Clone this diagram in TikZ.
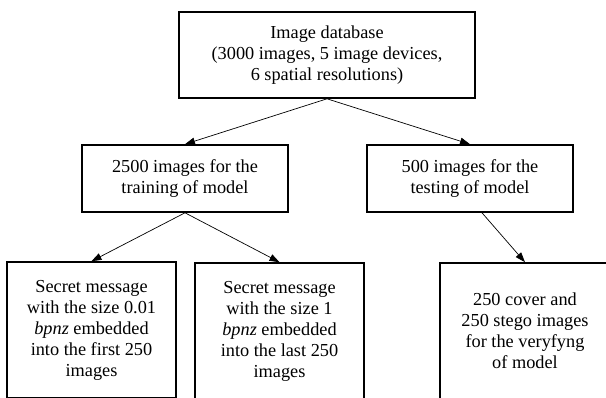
\documentclass[tikz,border=0pt]{standalone}
\usepackage{fontspec}
\setmainfont{Liberation Serif}
\usetikzlibrary{arrows.meta}
\tikzset{
  box/.style = {draw, line width=1.6pt, align=center, inner sep=2pt,
                font=\fontsize{18.3}{21}\selectfont},
  arr/.style = {-{Triangle[length=10pt,width=7pt]}, line width=0.7pt}
}
\begin{document}
\begin{tikzpicture}[x=1pt, y=-1pt]
\useasboundingbox (0,0) rectangle (606,397);
\clip (0,0) rectangle (606,397);
% top level
\node [box, minimum width=296pt, minimum height=86pt] (db) at (327,55)
  {Image database\\(3000 images, 5 image devices,\\6 spatial resolutions)};
% second level
\node [box, minimum width=206pt, minimum height=67pt] (train) at (185,178.5)
  {2500 images for the\\training of model};
\node [box, minimum width=206pt, minimum height=67pt] (test) at (470,178.5)
  {500 images for the\\testing of model};
% third level
\node [box, minimum width=169pt, minimum height=136pt] (small) at (91.5,330)
  {Secret message\\with the size 0.01\\\textit{bpnz} embedded\\into the first 250\\images};
\node [box, minimum width=169pt, minimum height=136pt] (large) at (279.5,331)
  {Secret message\\with the size 1\\\textit{bpnz} embedded\\into the last 250\\images};
\node [box, minimum width=170pt, minimum height=136pt] (verify) at (525,331)
  {250 cover and\\250 stego images\\for the veryfyng\\of model};
\draw [arr] (db.south) -- (train.north);
\draw [arr] (db.south) -- (test.north);
\draw [arr] (train.south) -- (small.north);
\draw [arr] (train.south) -- (large.north);
\draw [arr] ([xshift=12pt]test.south) -- (verify.north);
\end{tikzpicture}
\end{document}
